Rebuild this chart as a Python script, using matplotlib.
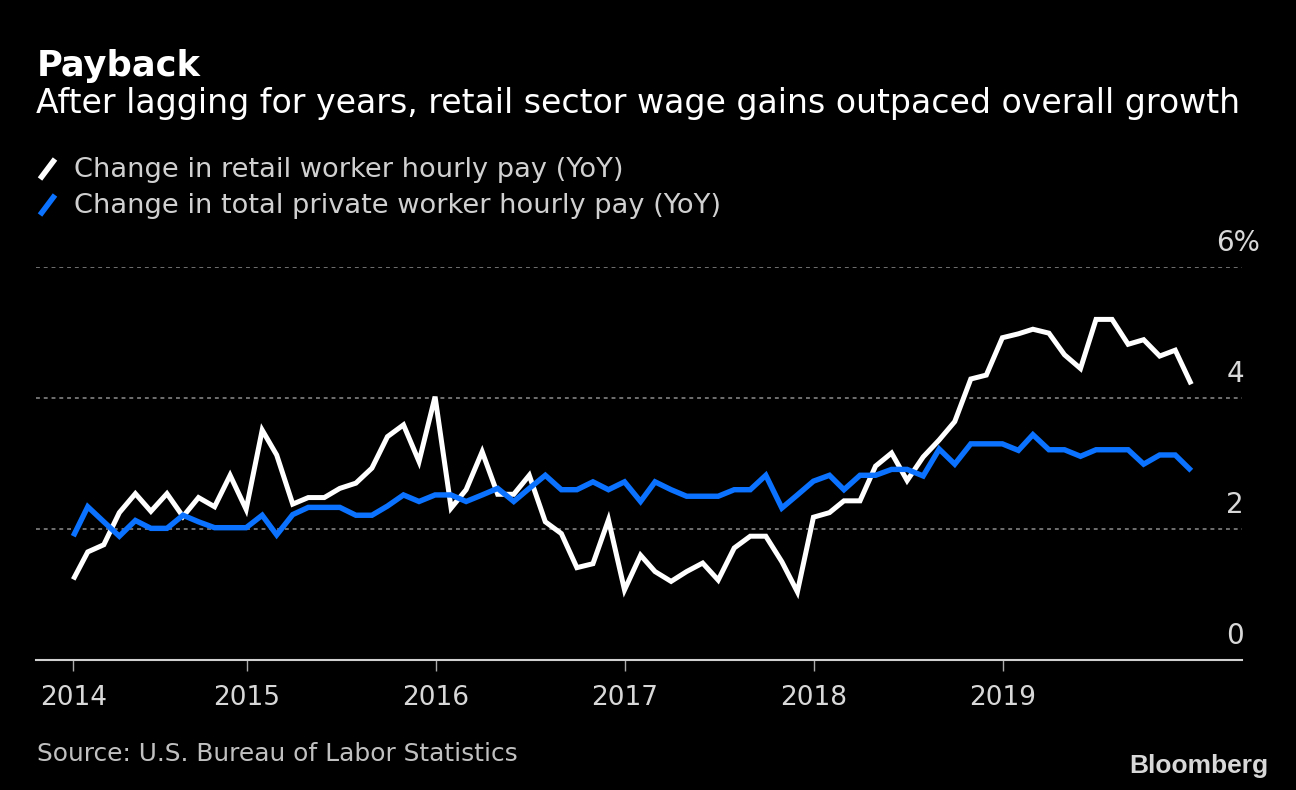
import matplotlib
matplotlib.use("Agg")
import matplotlib.pyplot as plt
from matplotlib.lines import Line2D
import pandas as pd

# monthly YoY change in average hourly earnings, Jan 2014 - Dec 2019 (%)
months = pd.date_range("2014-01-31", "2019-12-31", freq="ME")

retail = [1.23, 1.65, 1.76, 2.25, 2.54, 2.27, 2.54, 2.19, 2.48, 2.34, 2.82, 2.30,
          3.51, 3.13, 2.38, 2.48, 2.48, 2.62, 2.70, 2.93, 3.41, 3.59, 3.03, 4.02,
          2.32, 2.60, 3.18, 2.53, 2.53, 2.82, 2.11, 1.93, 1.41, 1.47, 2.14, 1.07,
          1.60, 1.35, 1.20, 1.35, 1.48, 1.22, 1.71, 1.89, 1.89, 1.50, 1.04, 2.18,
          2.25, 2.43, 2.43, 2.96, 3.16, 2.74, 3.10, 3.36, 3.64, 4.29, 4.35, 4.92,
          4.98, 5.05, 4.99, 4.66, 4.45, 5.20, 5.20, 4.82, 4.89, 4.64, 4.73, 4.21]

private = [1.89, 2.34, 2.11, 1.89, 2.13, 2.01, 2.01, 2.21, 2.11, 2.02, 2.02, 2.02,
           2.21, 1.91, 2.22, 2.33, 2.33, 2.33, 2.21, 2.21, 2.35, 2.52, 2.42, 2.52,
           2.52, 2.42, 2.52, 2.62, 2.42, 2.62, 2.82, 2.60, 2.60, 2.72, 2.60, 2.72,
           2.42, 2.72, 2.60, 2.50, 2.50, 2.50, 2.60, 2.60, 2.82, 2.32, 2.52, 2.73,
           2.82, 2.60, 2.82, 2.82, 2.91, 2.91, 2.81, 3.22, 2.99, 3.30, 3.30, 3.30,
           3.20, 3.44, 3.21, 3.21, 3.11, 3.21, 3.21, 3.21, 2.99, 3.13, 3.13, 2.89]

year_labels = ["2014", "2015", "2016", "2017", "2018", "2019"]
grid_values = [2, 4, 6]
y_labels = ["0", "2", "4", "6%"]

W, H = 1296, 790
BLUE = "#0a72ff"
FONT = "DejaVu Sans"


def fx(x):
    return x / W


def fy(y):
    return 1 - y / H


fig = plt.figure(figsize=(W / 100, H / 100), dpi=100, facecolor="black")
ax = fig.add_axes([fx(36), fy(660), (1242 - 36) / W, (660 - 267) / H])
ax.set_facecolor("black")

ax.plot(months, retail, color="white", lw=3.6, solid_joinstyle="miter", solid_capstyle="butt", zorder=3)
ax.plot(months, private, color=BLUE, lw=3.9, solid_joinstyle="miter", solid_capstyle="butt", zorder=4)

for g in grid_values:
    ax.axhline(g, color="#707070", lw=1.4, ls=(0, (2, 2)), zorder=1)

ax.set_ylim(0, 6)
ax.set_xlim(months[0] - pd.Timedelta(days=72), months[-1] + pd.Timedelta(days=98))

for s in ["top", "left", "right"]:
    ax.spines[s].set_visible(False)
ax.spines["bottom"].set_color("#d0d0d0")
ax.spines["bottom"].set_linewidth(1.5)

# first tick sits on the first data point, the rest on Jan 1
ticks = [months[0]] + [pd.Timestamp(f"{y}-01-01") for y in year_labels[1:]]
ax.set_xticks(ticks)
ax.set_xticklabels(year_labels, fontsize=19, color="#d8d8d8", family=FONT)
ax.tick_params(axis="x", length=8, width=1, color="#aaaaaa", pad=10)
ax.set_yticks([])

# right-hand value labels sitting above the gridlines
ytr = ax.get_yaxis_transform()
for i, lab in enumerate(y_labels):
    v = i * 2
    xr = 1.0017 if lab != "6%" else 1.0149
    ax.text(xr, v + 0.245, lab, transform=ytr, ha="right", va="baseline",
            fontsize=20, color="#d8d8d8", family=FONT)

# header
fig.text(fx(37), fy(76), "Payback", fontsize=25.4, fontweight="bold", color="white", family=FONT)
fig.text(fx(36), fy(113), "After lagging for years, retail sector wage gains outpaced overall growth",
         fontsize=23.9, color="white", family=FONT)

# legend
leg = [("Change in retail worker hourly pay (YoY)", "white", 177),
       ("Change in total private worker hourly pay (YoY)", BLUE, 213)]
for text, col, base in leg:
    fig.add_artist(Line2D([fx(40), fx(55)], [fy(base + 2), fy(base - 18)], color=col, lw=4,
                          solid_capstyle="butt", transform=fig.transFigure))
    fig.text(fx(74), fy(base), text, fontsize=19.6, color="#d0d0d0", family=FONT)

# footer
fig.text(fx(37), fy(761), "Source: U.S. Bureau of Labor Statistics", fontsize=17.9, color="#c0c0c0", family=FONT)
fig.text(fx(1268), fy(773), "Bloomberg", fontsize=19, fontweight="bold", color="#d8d8d8",
         family="Liberation Sans", ha="right")

fig.savefig("out.png", dpi=100, facecolor="black")
